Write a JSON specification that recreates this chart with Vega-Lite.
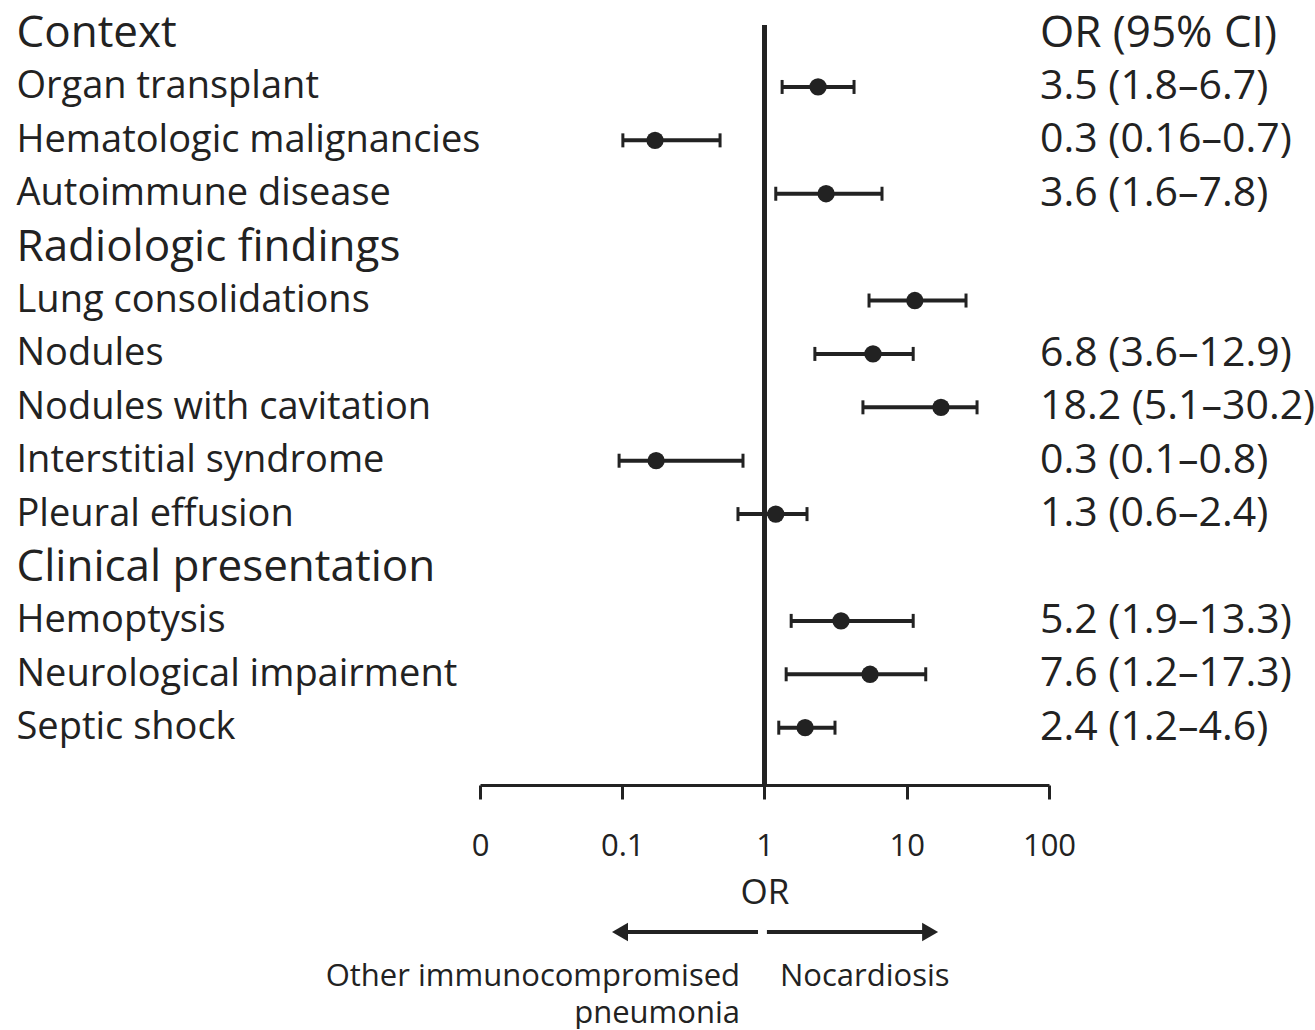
{
  "$schema": "https://vega.github.io/schema/vega-lite/v6.json",
  "background": "white",
  "padding": {"left": 16, "top": 11, "right": 0, "bottom": 0},
  "spacing": 12,
  "resolve": {"scale": {"x": "shared"}},
  "config": {
    "view": {"stroke": null},
    "font": "Open Sans",
    "text": {"font": "Open Sans", "color": "#222"},
    "axisX": {
      "grid": false, "domainColor": "#222", "domainWidth": 3,
      "tickColor": "#222", "tickWidth": 3, "tickSize": 14,
      "labelFont": "Open Sans", "labelFontSize": 31, "labelColor": "#222",
      "labelPadding": 32, "labelFlush": false, "labelOverlap": false,
      "titleFont": "Open Sans", "titleFontSize": 35, "titleFontWeight": "normal",
      "titleColor": "#222", "titlePadding": 14
    },
    "axisY": {
      "grid": false, "domain": false, "ticks": false, "tickSize": 0,
      "labelAlign": "left", "labelBaseline": "middle", "labelPadding": 464,
      "labelLimit": 0, "labelFont": "Open Sans", "labelColor": "#222", "labelOverlap": false
    }
  },
  "vconcat": [
    {
      "width": 569,
      "height": 760,
      "data": {"values": [
        {"label": "Context", "est": null, "lo": null, "hi": null, "ci": "OR (95% CI)"},
        {"label": "Organ transplant", "est": 2.38, "lo": 1.33, "hi": 4.26, "ci": "3.5 (1.8–6.7)"},
        {"label": "Hematologic malignancies", "est": 0.17, "lo": 0.101, "hi": 0.487, "ci": "0.3 (0.16–0.7)"},
        {"label": "Autoimmune disease", "est": 2.71, "lo": 1.2, "hi": 6.7, "ci": "3.6 (1.6–7.8)"},
        {"label": "Radiologic findings", "est": null, "lo": null, "hi": null, "ci": null},
        {"label": "Lung consolidations", "est": 11.4, "lo": 5.43, "hi": 26.1, "ci": null},
        {"label": "Nodules", "est": 5.79, "lo": 2.26, "hi": 11.1, "ci": "6.8 (3.6–12.9)"},
        {"label": "Nodules with cavitation", "est": 17.4, "lo": 4.92, "hi": 31.2, "ci": "18.2 (5.1–30.2)"},
        {"label": "Interstitial syndrome", "est": 0.173, "lo": 0.095, "hi": 0.706, "ci": "0.3 (0.1–0.8)"},
        {"label": "Pleural effusion", "est": 1.2, "lo": 0.651, "hi": 1.99, "ci": "1.3 (0.6–2.4)"},
        {"label": "Clinical presentation", "est": null, "lo": null, "hi": null, "ci": null},
        {"label": "Hemoptysis", "est": 3.45, "lo": 1.54, "hi": 11.1, "ci": "5.2 (1.9–13.3)"},
        {"label": "Neurological impairment", "est": 5.52, "lo": 1.42, "hi": 13.6, "ci": "7.6 (1.2–17.3)"},
        {"label": "Septic shock", "est": 1.93, "lo": 1.26, "hi": 3.13, "ci": "2.4 (1.2–4.6)"}
      ]},
      "layer": [
        {
          "mark": {"type": "rule", "color": "#222", "strokeWidth": 3.5},
          "encoding": {
            "x": {
              "datum": 1, "type": "quantitative", "title": "OR",
              "scale": {"type": "log", "domain": [0.01, 100], "nice": false},
              "axis": {"values": [0.01, 0.1, 1, 10, 100], "labelExpr": "datum.value < 0.05 ? '0' : format(datum.value, '~g')"}
            }
          }
        },
        {
          "encoding": {
            "y": {
              "field": "label", "type": "nominal",
              "scale": {"type": "point", "padding": 0.617, "align": 0.13, "domain": [
                "Context", "Organ transplant", "Hematologic malignancies", "Autoimmune disease",
                "Radiologic findings", "Lung consolidations", "Nodules", "Nodules with cavitation",
                "Interstitial syndrome", "Pleural effusion", "Clinical presentation", "Hemoptysis",
                "Neurological impairment", "Septic shock"]},
              "axis": {
                "title": null,
                "labelFontSize": {"condition": {"test": "indexof(['Context','Radiologic findings','Clinical presentation'], datum.value) >= 0", "value": 44}, "value": 38}
              }
            }
          },
          "layer": [
            {
              "transform": [{"filter": "isValid(datum.est)"}],
              "mark": {"type": "rule", "color": "#222", "strokeWidth": 4},
              "encoding": {
                "x": {"field": "lo", "type": "quantitative", "title": "OR", "scale": {"type": "log", "domain": [0.01, 100], "nice": false}},
                "x2": {"field": "hi"}
              }
            },
            {
              "transform": [{"filter": "isValid(datum.est)"}],
              "mark": {"type": "tick", "color": "#222", "size": 14, "thickness": 3, "opacity": 1},
              "encoding": {
                "x": {"field": "lo", "type": "quantitative", "title": "OR", "scale": {"type": "log", "domain": [0.01, 100], "nice": false}}
              }
            },
            {
              "transform": [{"filter": "isValid(datum.est)"}],
              "mark": {"type": "tick", "color": "#222", "size": 14, "thickness": 3, "opacity": 1},
              "encoding": {
                "x": {"field": "hi", "type": "quantitative", "title": "OR", "scale": {"type": "log", "domain": [0.01, 100], "nice": false}}
              }
            },
            {
              "transform": [{"filter": "isValid(datum.est)"}],
              "mark": {"type": "circle", "color": "#222", "size": 300, "opacity": 1},
              "encoding": {
                "x": {"field": "est", "type": "quantitative", "title": "OR", "scale": {"type": "log", "domain": [0.01, 100], "nice": false}}
              }
            },
            {
              "transform": [{"filter": "isValid(datum.ci)"}],
              "mark": {"type": "text", "align": "left", "baseline": "middle", "dx": -9, "color": "#222"},
              "encoding": {
                "x": {"datum": 100, "type": "quantitative", "title": "OR", "scale": {"type": "log", "domain": [0.01, 100], "nice": false}},
                "text": {"field": "ci", "type": "nominal"},
                "size": {"condition": {"test": "datum.label == 'Context'", "value": 44}, "value": 41}
              }
            }
          ]
        }
      ]
    },
    {
      "width": 569,
      "height": 30,
      "layer": [
        {
          "data": {"values": [
            {"row": "arrow", "start": 0.9, "end": 0.0964},
            {"row": "arrow", "start": 1.04, "end": 14.6}
          ]},
          "mark": {"type": "rule", "color": "#222", "strokeWidth": 4},
          "encoding": {
            "x": {"field": "start", "type": "quantitative", "axis": null, "scale": {"type": "log", "domain": [0.01, 100], "nice": false}},
            "x2": {"field": "end"},
            "y": {"field": "row", "type": "nominal", "axis": null, "scale": {"type": "point", "domain": ["arrow", "label"], "padding": 0}}
          }
        },
        {
          "data": {"values": [
            {"row": "arrow", "tip": 0.0964, "shape": "triangle-left"},
            {"row": "arrow", "tip": 14.6, "shape": "triangle-right"}
          ]},
          "mark": {"type": "point", "filled": true, "size": 340, "color": "#222", "opacity": 1},
          "encoding": {
            "x": {"field": "tip", "type": "quantitative", "axis": null, "scale": {"type": "log", "domain": [0.01, 100], "nice": false}},
            "y": {"field": "row", "type": "nominal", "axis": null, "scale": {"type": "point", "domain": ["arrow", "label"], "padding": 0}},
            "shape": {"field": "shape", "type": "nominal", "scale": null}
          }
        },
        {
          "data": {"values": [
            {"row": "label", "pos": 0.673, "text": "Other immunocompromised\npneumonia"}
          ]},
          "mark": {"type": "text", "align": "right", "baseline": "top", "fontSize": 31, "lineHeight": 37, "lineBreak": "\n", "color": "#222"},
          "encoding": {
            "x": {"field": "pos", "type": "quantitative", "axis": null, "scale": {"type": "log", "domain": [0.01, 100], "nice": false}},
            "y": {"field": "row", "type": "nominal", "axis": null, "scale": {"type": "point", "domain": ["arrow", "label"], "padding": 0}},
            "text": {"field": "text", "type": "nominal"}
          }
        },
        {
          "data": {"values": [
            {"row": "label", "pos": 1.285, "text": "Nocardiosis"}
          ]},
          "mark": {"type": "text", "align": "left", "baseline": "top", "fontSize": 31, "color": "#222"},
          "encoding": {
            "x": {"field": "pos", "type": "quantitative", "axis": null, "scale": {"type": "log", "domain": [0.01, 100], "nice": false}},
            "y": {"field": "row", "type": "nominal", "axis": null, "scale": {"type": "point", "domain": ["arrow", "label"], "padding": 0}},
            "text": {"field": "text", "type": "nominal"}
          }
        }
      ]
    }
  ]
}
